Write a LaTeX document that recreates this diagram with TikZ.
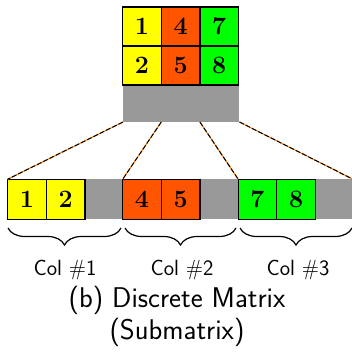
\documentclass[tikz,border=0pt]{standalone}
\usepackage{fontspec}
\usetikzlibrary{calc,decorations.pathreplacing}
\definecolor{cyel}{RGB}{255,255,0}
\definecolor{corg}{RGB}{255,85,0}
\definecolor{cgrn}{RGB}{0,255,0}
\definecolor{cgry}{RGB}{153,153,153}
\tikzset{
  cell/.style={draw=black,line width=1.3pt,minimum width=38.6pt,minimum height=39pt,inner sep=0pt,outer sep=0pt,font=\fontsize{25}{25}\selectfont\bfseries},
  bcell/.style={cell,minimum height=40pt},
  graybar/.style={fill=cgry,draw=none,inner sep=0pt,outer sep=0pt},
  link/.style={orange,line width=1pt},
  linkd/.style={black,line width=1pt,dash pattern=on 5pt off 2pt},
  brc/.style={decorate,decoration={brace,mirror,amplitude=17pt},line width=1.2pt},
  lbl/.style={font=\sffamily\fontsize{22}{24}\selectfont},
  captext/.style={font=\sffamily\fontsize{28.5}{30}\selectfont}
}
\begin{document}
\begin{tikzpicture}[x=1pt,y=1pt]
\useasboundingbox (0,0) rectangle (352,354);
% top matrix
\node[graybar,minimum width=116.5pt,minimum height=37pt] (tg) at (181.2,250.5) {};
\node[cell,fill=cyel] (t1) at (142,327.5) {1};
\node[cell,fill=corg] (t4) at (180.6,327.5) {4};
\node[cell,fill=cgrn] (t7) at (219.2,327.5) {7};
\node[cell,fill=cyel] (t2) at (142,288.5) {2};
\node[cell,fill=corg] (t5) at (180.6,288.5) {5};
\node[cell,fill=cgrn] (t8) at (219.2,288.5) {8};
% bottom row
\node[graybar,minimum width=345pt,minimum height=40pt] (bg) at (180.5,154.75) {};
\node[bcell,fill=cyel] (b1) at (27,154.75) {1};
\node[bcell,fill=cyel] (b2) at (65.6,154.75) {2};
\node[bcell,fill=corg] (b4) at (142,154.75) {4};
\node[bcell,fill=corg] (b5) at (180.6,154.75) {5};
\node[bcell,fill=cgrn] (b7) at (257.5,154.75) {7};
\node[bcell,fill=cgrn] (b8) at (296.1,154.75) {8};
% connectors
\coordinate (s1) at (tg.south west);
\coordinate (s2) at (t5.west |- tg.south);
\coordinate (s3) at (t5.east |- tg.south);
\coordinate (s4) at (tg.south east);
\foreach \a/\b in {s1/b1.north west, s2/b4.north west, s3/b7.north west, s4/bg.north east}{
  \draw[link] (\a) -- (\b);
  \draw[linkd] (\a) -- (\b);
}
% braces
\coordinate (k1a) at (8,126); \coordinate (k1b) at (121,126);
\coordinate (k2a) at (125,126); \coordinate (k2b) at (236,126);
\coordinate (k3a) at (240,126); \coordinate (k3b) at (352,126);
\draw[brc] (k1a) -- (k1b);
\draw[brc] (k2a) -- (k2b);
\draw[brc] (k3a) -- (k3b);
\node[lbl] (c1) at (65,84) {Col \#1};
\node[lbl] (c2) at (182,84) {Col \#2};
\node[lbl] (c3) at (298,84) {Col \#3};
\node[captext] (cap1) at (177,54) {(b) Discrete Matrix};
\node[captext] (cap2) at (177,22) {(Submatrix)};
\end{tikzpicture}
\end{document}
